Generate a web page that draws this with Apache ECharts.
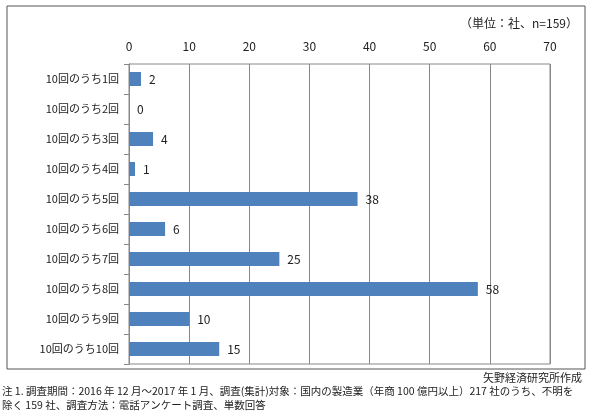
<!DOCTYPE html>
<html><head><meta charset="utf-8">
<script src="https://cdn.jsdelivr.net/npm/echarts@6/dist/echarts.min.js"></script>
<style>body{margin:0;background:#fff}#c{width:590px;height:414px}</style>
</head><body><div id="c"></div>
<script>
// 回答カテゴリ
var categories = ['10回のうち1回','10回のうち2回','10回のうち3回','10回のうち4回','10回のうち5回',
  '10回のうち6回','10回のうち7回','10回のうち8回','10回のうち9回','10回のうち10回'];
var values = [2, 0, 4, 1, 38, 6, 25, 58, 10, 15];

var f = '"Noto Sans CJK JP", sans-serif';
var chart = echarts.init(document.getElementById('c'));
chart.setOption({
  animation: false,
  grid: { left: 129, right: 40, top: 64, height: 300, show: true, borderColor: '#888', borderWidth: 1 },
  xAxis: {
    type: 'value', position: 'top', min: 0, max: 70, interval: 10,
    axisLabel: { color: '#222', fontSize: 12, fontFamily: f, margin: 12 },
    axisLine: { show: false }, axisTick: { show: false },
    splitLine: { lineStyle: { color: '#888' } }
  },
  yAxis: {
    type: 'category', inverse: true, data: categories,
    axisLabel: { color: '#222', fontSize: 11, fontFamily: f, margin: 10 },
    axisLine: { lineStyle: { color: '#888' } },
    axisTick: { show: true, length: 5, lineStyle: { color: '#888' } }
  },
  series: [{
    type: 'bar', data: values, barWidth: 14,
    itemStyle: { color: '#4f81bd' },
    label: { show: true, position: 'right', color: '#222', fontSize: 12, fontFamily: f, distance: 8 }
  }],
  graphic: [
    { type: 'rect', shape: { x: 7, y: 6, width: 578, height: 363 }, style: { fill: 'none', stroke: '#555', lineWidth: 1 } },
    { type: 'text', right: 12, top: 17, style: { text: '（単位：社、n=159）', font: '12px ' + f, fill: '#222' } },
    { type: 'text', right: 8, top: 372, style: { text: '矢野経済研究所作成', font: '11px ' + f, fill: '#222' } },
    { type: 'text', left: 2, top: 386, style: { text: '注 1. 調査期間：2016 年 12 月～2017 年 1 月、調査(集計)対象：国内の製造業（年商 100 億円以上）217 社のうち、不明を', font: '10.5px ' + f, fill: '#222' } },
    { type: 'text', left: 2, top: 400, style: { text: '除く 159 社、調査方法：電話アンケート調査、単数回答', font: '10.5px ' + f, fill: '#222' } }
  ]
});
</script></body></html>
